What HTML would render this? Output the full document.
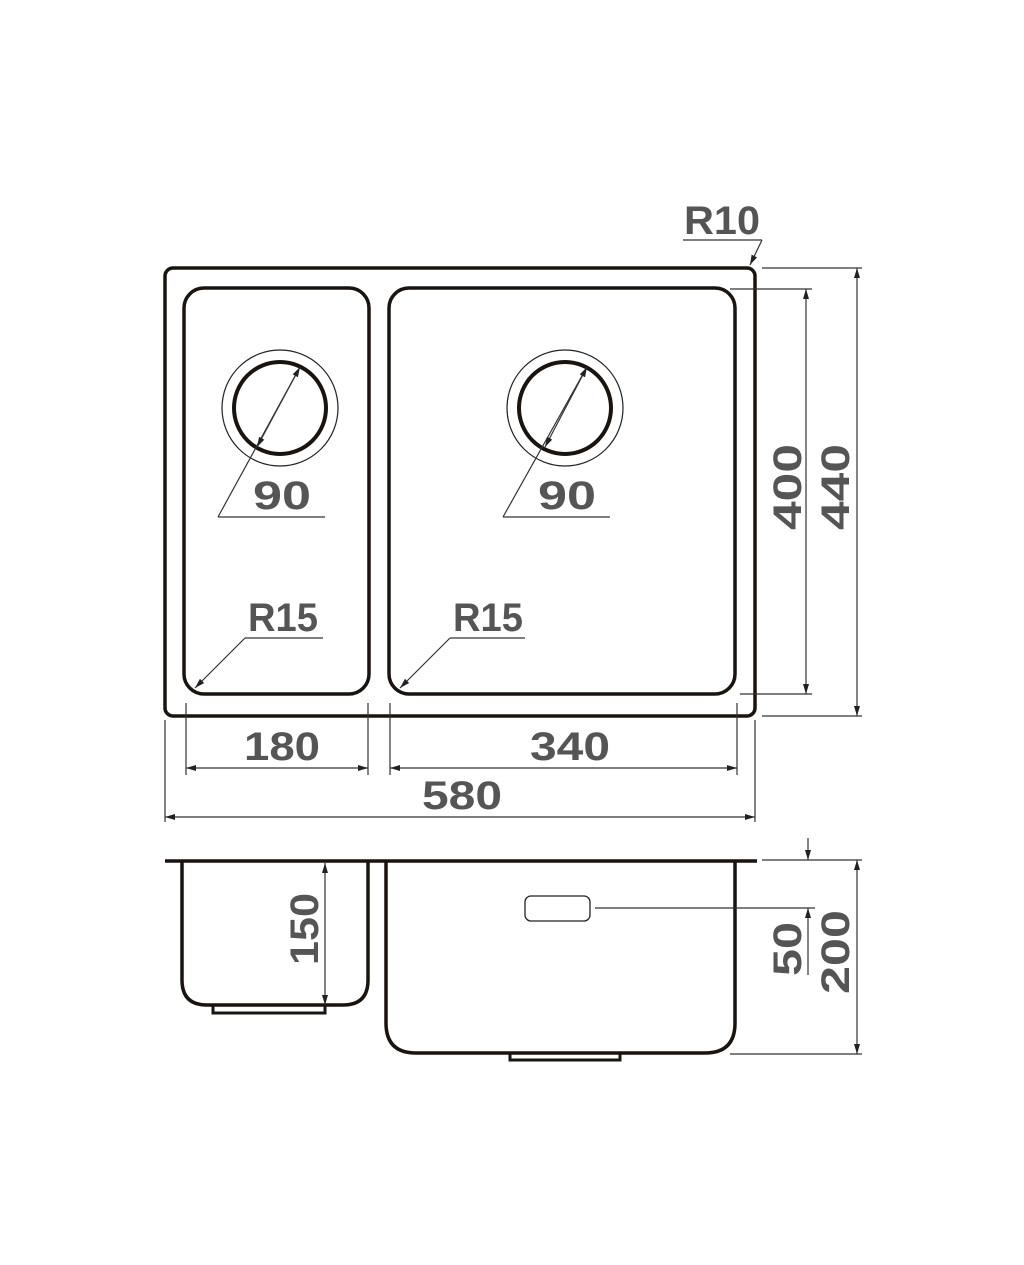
<!DOCTYPE html>
<html><head><style>body{margin:0;background:#fff}svg{display:block}text{font-family:"Liberation Sans",sans-serif;font-weight:bold;font-size:40px;fill:#555;text-anchor:middle}</style></head><body>
<svg width="1024" height="1265" viewBox="0 0 1024 1265">
<defs><marker id="a" viewBox="0 0 10 6" refX="10" refY="3" markerWidth="10" markerHeight="6" orient="auto-start-reverse" markerUnits="userSpaceOnUse"><path d="M0,0L10,3L0,6z" fill="#222"/></marker></defs>
<g fill="none" stroke="#1a1410" stroke-width="3.5">
<rect x="165" y="268" width="590" height="448" rx="8"/>
<rect x="184" y="288" width="185" height="406" rx="20"/>
<rect x="389" y="288" width="346" height="406" rx="20"/>
<circle cx="280" cy="408" r="46" stroke-width="4"/>
<circle cx="565" cy="408" r="46" stroke-width="4"/>
</g>
<g fill="none" stroke="#222" stroke-width="1.2">
<circle cx="280" cy="408" r="58"/><circle cx="565" cy="408" r="58"/>
</g>
<g fill="none" stroke="#333" stroke-width="1.2">
<path d="M218,517H325M218,517L300,367" /><line x1="257" y1="447" x2="300" y2="367" marker-start="url(#a)" marker-end="url(#a)"/>
<path d="M503,517H610M503,517L587,367"/><line x1="545" y1="447" x2="587" y2="367" marker-start="url(#a)" marker-end="url(#a)"/>
<path d="M245,638H323"/><line x1="245" y1="638" x2="195" y2="688" marker-end="url(#a)"/>
<path d="M450,638H525"/><line x1="450" y1="638" x2="400" y2="688" marker-end="url(#a)"/>
<path d="M683,240H762"/><line x1="762" y1="240" x2="750" y2="265" marker-end="url(#a)"/>
<path d="M730,289H812M740,694H812M762,268H862M762,716H862"/>
<line x1="806" y1="289" x2="806" y2="694" marker-start="url(#a)" marker-end="url(#a)"/>
<line x1="857" y1="268" x2="857" y2="716" marker-start="url(#a)" marker-end="url(#a)"/>
<path d="M186,703V775M368,703V775M390,703V775M737,703V775M165,720V822M755,720V822"/>
<line x1="186" y1="768" x2="368" y2="768" marker-start="url(#a)" marker-end="url(#a)"/>
<line x1="390" y1="768" x2="737" y2="768" marker-start="url(#a)" marker-end="url(#a)"/>
<line x1="165" y1="817" x2="755" y2="817" marker-start="url(#a)" marker-end="url(#a)"/>
</g>
<text x="282" y="509" textLength="58" lengthAdjust="spacingAndGlyphs">90</text>
<text x="567" y="509" textLength="58" lengthAdjust="spacingAndGlyphs">90</text>
<text x="283" y="631" textLength="70" lengthAdjust="spacingAndGlyphs">R15</text>
<text x="488" y="631" textLength="70" lengthAdjust="spacingAndGlyphs">R15</text>
<text x="722" y="234" textLength="76" lengthAdjust="spacingAndGlyphs">R10</text>
<text x="282" y="760" textLength="76" lengthAdjust="spacingAndGlyphs">180</text>
<text x="570" y="760" textLength="80" lengthAdjust="spacingAndGlyphs">340</text>
<text x="462" y="809" textLength="80" lengthAdjust="spacingAndGlyphs">580</text>
<text transform="translate(801,487) rotate(-90)" textLength="86" lengthAdjust="spacingAndGlyphs">400</text>
<text transform="translate(849,487) rotate(-90)" textLength="86" lengthAdjust="spacingAndGlyphs">440</text>
<!-- side view -->
<g fill="none" stroke="#1a1410" stroke-width="3.5">
<path d="M165,861H757"/>
<path d="M182,861V980Q182,1005 207,1005H343Q368,1005 368,980V861"/>
<path d="M386,861V1023Q386,1053 416,1053H705Q735,1053 735,1023V861"/>
<path d="M213,1006V1013H325V1006" stroke-width="3"/>
<path d="M510,1054V1060H620V1054" stroke-width="3"/>
</g>
<rect x="525" y="896" width="65" height="25" rx="6" fill="none" stroke="#222" stroke-width="1.3"/>
<g fill="none" stroke="#333" stroke-width="1.2">
<line x1="325" y1="863" x2="325" y2="1005" marker-start="url(#a)" marker-end="url(#a)"/>
<path d="M595,908H815M762,860H862M730,1054H862"/>
<line x1="808" y1="838" x2="808" y2="860" marker-end="url(#a)"/>
<line x1="808" y1="975" x2="808" y2="908" marker-end="url(#a)"/>
<line x1="857" y1="860" x2="857" y2="1054" marker-start="url(#a)" marker-end="url(#a)"/>
</g>
<text transform="translate(318,929) rotate(-90)" textLength="72" lengthAdjust="spacingAndGlyphs">150</text>
<text transform="translate(801,949) rotate(-90)" textLength="54" lengthAdjust="spacingAndGlyphs">50</text>
<text transform="translate(849,952) rotate(-90)" textLength="84" lengthAdjust="spacingAndGlyphs">200</text>
</svg>
</body></html>
